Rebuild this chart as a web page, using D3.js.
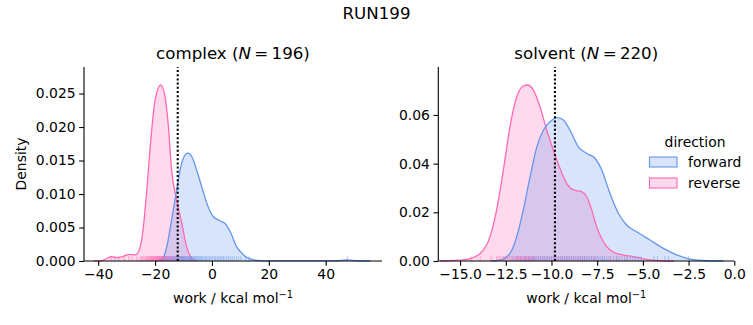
<!DOCTYPE html>
<html><head><meta charset="utf-8">
<script src="https://cdn.jsdelivr.net/npm/d3@7"></script>
<style>body{margin:0;background:#fff}svg{font-family:"DejaVu Sans",sans-serif}</style>
</head><body><svg id="c" width="753" height="325"></svg>
<script>
// ---- data ----
const figTitle = "RUN199";
const directions = ["forward", "reverse"];
const colors = ["#6495ED", "#FF69B4"];

// complex panel KDE curves [work, density]
const complexForwardKDE = [[-19.5,0],[-17.7,0.0002],[-15.9,0.0021],[-14.2,0.0061],[-12.4,0.0106],[-11.2,0.0136],[-10.1,0.0153],[-8.5,0.0161],[-7.1,0.0156],[-5.4,0.0136],[-3.6,0.0111],[-1.8,0.0086],[0.5,0.0066],[2.9,0.006],[4.6,0.0056],[6.4,0.0044],[8.7,0.0021],[11.1,0.0009],[13.4,0.0003],[16.9,0.00005],[20,0.00001],[40,0.00001],[44,0.00004],[47.5,0.00015],[51,0.00004],[55.7,0]];
const complexReverseKDE = [[-41.5,0],[-38.5,0.0001],[-35.3,0.00065],[-33.5,0.0005],[-31.2,0.0007],[-29.1,0.001],[-27.1,0.0009],[-25.6,0.0016],[-24.4,0.0041],[-23.0,0.0101],[-21.4,0.0186],[-20.0,0.024],[-18.0,0.0263],[-16.5,0.0245],[-15.3,0.020],[-14.2,0.0136],[-12.4,0.0091],[-10.6,0.0056],[-8.9,0.0021],[-7.1,0.0004],[-5.5,0]];
// solvent panel KDE curves
const solventForwardKDE = [[-13.3,0],[-12.8,0.0004],[-12.27,0.0031],[-11.9,0.010],[-11.54,0.021],[-11.17,0.0346],[-10.8,0.0469],[-10.44,0.0538],[-10.08,0.0572],[-9.68,0.0589],[-9.35,0.0579],[-8.99,0.0538],[-8.53,0.0469],[-8.07,0.0442],[-7.62,0.0422],[-7.25,0.0374],[-6.8,0.0278],[-6.34,0.0196],[-5.89,0.0148],[-5.34,0.012],[-4.61,0.0086],[-3.88,0.0052],[-3.15,0.0025],[-2.42,0.0008],[-1.5,0.0001],[-0.6,0]];
const solventReverseKDE = [[-16.1,0],[-15.4,0.0002],[-14.6,0.0007],[-13.9,0.0031],[-13.36,0.010],[-13.0,0.021],[-12.63,0.0374],[-12.27,0.0552],[-11.9,0.0675],[-11.54,0.0719],[-11.3,0.0723],[-10.99,0.0702],[-10.63,0.0634],[-10.26,0.0538],[-9.9,0.0456],[-9.53,0.038],[-9.17,0.0319],[-8.8,0.0292],[-8.35,0.0285],[-8.07,0.0264],[-7.8,0.021],[-7.53,0.0141],[-7.16,0.0079],[-6.8,0.0045],[-6.25,0.0027],[-5.52,0.0018],[-4.79,0.0007],[-4.06,0.0001],[-3.3,0]];

// rug values (work samples)
const complexForwardRug = [-17.2,-16.4,-15.8,-15.1,-14.6,-14.1,-13.7,-13.3,-12.9,-12.5,-12.2,-11.9,-11.6,-11.3,-11.0,-10.7,-10.5,-10.2,-10.0,-9.7,-9.5,-9.2,-9.0,-8.7,-8.5,-8.2,-8.0,-7.7,-7.5,-7.2,-7.0,-6.7,-6.4,-6.1,-5.8,-5.4,-5.1,-4.8,-4.4,-4.0,-3.6,-3.2,-2.8,-2.3,-1.9,-1.4,-0.9,-0.3,0.2,0.8,1.3,1.9,2.4,3.0,3.5,4.0,4.6,5.2,5.8,6.4,7.1,7.8,8.6,9.4,10.2,11.8,13.1,47.6];
const complexReverseRug = [-35.5,-34.2,-32.8,-30.9,-29.3,-28.1,-26.4,-25.3,-24.8,-24.3,-23.9,-23.5,-23.1,-22.8,-22.6,-22.3,-22.0,-21.7,-21.5,-21.3,-21.1,-20.9,-20.7,-20.5,-20.3,-20.1,-19.9,-19.7,-19.6,-19.4,-19.3,-19.1,-19.0,-18.8,-18.7,-18.5,-18.4,-18.2,-18.1,-17.9,-17.8,-17.6,-17.5,-17.3,-17.2,-17.0,-16.9,-16.7,-16.6,-16.4,-16.2,-16.0,-15.8,-15.6,-15.4,-15.2,-15.0,-14.7,-14.5,-14.2,-14.0,-13.7,-13.4,-13.0,-12.7,-12.3,-11.9,-11.4,-11.0,-10.5,-10.1,-9.2,-8.1,-7.3];
const solventForwardRug = [-12.6,-12.1,-11.9,-11.7,-11.5,-11.4,-11.25,-11.1,-11.0,-10.9,-10.8,-10.7,-10.6,-10.5,-10.4,-10.3,-10.2,-10.1,-10.0,-9.9,-9.8,-9.7,-9.6,-9.5,-9.4,-9.3,-9.2,-9.1,-9.0,-8.9,-8.8,-8.7,-8.6,-8.5,-8.4,-8.3,-8.2,-8.1,-8.0,-7.9,-7.8,-7.7,-7.6,-7.5,-7.4,-7.3,-7.2,-7.1,-7.0,-6.9,-6.75,-6.6,-6.45,-6.3,-6.15,-6.0,-5.85,-5.7,-5.55,-5.4,-5.25,-5.1,-4.4,-4.2,-3.8,-3.6,-2.5];
const solventReverseRug = [-14.4,-13.9,-13.3,-13.0,-12.9,-12.8,-12.7,-12.6,-12.5,-12.4,-12.3,-12.2,-12.1,-12.0,-11.95,-11.9,-11.85,-11.8,-11.75,-11.7,-11.65,-11.6,-11.55,-11.5,-11.45,-11.4,-11.35,-11.3,-11.25,-11.2,-11.15,-11.1,-11.05,-11.0,-10.95,-10.9,-10.8,-10.7,-10.6,-10.5,-10.4,-10.3,-10.2,-10.1,-10.0,-9.9,-9.8,-9.7,-9.6,-9.5,-9.4,-9.3,-9.2,-9.1,-9.0,-8.9,-8.8,-8.7,-8.6,-8.5,-8.4,-8.3,-8.2,-8.1,-7.95,-7.8,-7.65,-7.5,-7.2,-6.8,-6.4,-5.9];

const complexEstimate = -12.04;
const solventEstimate = -9.81;

const complexXTicks = [-40,-20,0,20,40];
const complexYTicks = [0,0.005,0.01,0.015,0.02,0.025];
const solventXTicks = [-15,-12.5,-10,-7.5,-5,-2.5,0];
const solventYTicks = [0,0.02,0.04,0.06];

// ---- drawing ----
const svg = d3.select("#c");
const fmtMinus = s => s.replace("-", "\u2212");

svg.append("text").attr("x", 376.5).attr("y", 19).attr("text-anchor","middle")
  .attr("font-size", 16.67).text(figTitle);

function panel(opt){
  const x = d3.scaleLinear().domain(opt.xDomain).range([opt.left, opt.right]);
  const y = d3.scaleLinear().domain(opt.yDomain).range([261, 67]);
  const g = svg.append("g");
  const area = d3.area().x(d=>x(d[0])).y0(y(0)).y1(d=>y(d[1])).curve(d3.curveMonotoneX);
  const line = d3.line().x(d=>x(d[0])).y(d=>y(d[1])).curve(d3.curveMonotoneX);
  [[opt.revKDE, colors[1]], [opt.fwdKDE, colors[0]]].forEach(([d,c])=>{
    g.append("path").datum(d).attr("d", area).attr("fill", c).attr("fill-opacity", 0.25);
  });
  [[opt.revKDE, colors[1]], [opt.fwdKDE, colors[0]]].forEach(([d,c])=>{
    g.append("path").datum(d).attr("d", line).attr("fill","none").attr("stroke", c).attr("stroke-width", 1.3);
  });
  // rugs
  const rh = 0.025*(261-67);
  [[opt.revRug, colors[1]], [opt.fwdRug, colors[0]]].forEach(([d,c])=>{
    g.append("g").selectAll("line").data(d).join("line")
      .attr("x1", v=>x(v)).attr("x2", v=>x(v)).attr("y1", 261).attr("y2", 261-rh)
      .attr("stroke", c).attr("stroke-width", 1).attr("stroke-opacity", 0.5);
  });
  // estimate line
  g.append("line").attr("x1", x(opt.est)).attr("x2", x(opt.est)).attr("y1", 261).attr("y2", 67)
    .attr("stroke","#000").attr("stroke-width",2.1).attr("stroke-dasharray","2,2.2");
  // axes
  const xa = d3.axisBottom(x).tickValues(opt.xTicks).tickSize(4.86).tickPadding(3.5)
    .tickFormat(v=>fmtMinus(d3.format(opt.xFmt)(v)));
  const gx = svg.append("g").attr("transform","translate(0,261)").call(xa);
  const ya = d3.axisLeft(y).tickValues(opt.yTicks).tickSize(4.86).tickPadding(3.5)
    .tickFormat(v=>d3.format(opt.yFmt)(v));
  const gy = svg.append("g").attr("transform",`translate(${opt.left},0)`).call(ya);
  [gx, gy].forEach(a=>{
    a.selectAll("text").attr("font-size", 13.9).attr("fill","#000").attr("font-family","DejaVu Sans");
    a.selectAll("line").attr("stroke","#000").attr("stroke-width",1.1);
    a.select(".domain").attr("stroke","#000").attr("stroke-width",1.1);
  });
  gx.select(".domain").attr("d", `M${opt.left},0H${opt.right}`);
  gy.select(".domain").attr("d", `M0,261V67`);
  // title
  const cx = (opt.left+opt.right)/2;
  const t = svg.append("text").attr("x", cx).attr("y", 59).attr("text-anchor","middle").attr("font-size",16.67);
  t.append("tspan").text(opt.name + " (");
  t.append("tspan").attr("font-style","italic").text("N");
  t.append("tspan").text("\u2009=\u2009" + opt.n + ")");
  // x label
  const xl = svg.append("text").attr("x", cx).attr("y", 303).attr("text-anchor","middle").attr("font-size",13.9);
  xl.append("tspan").text("work / kcal mol");
  xl.append("tspan").attr("dy",-5.5).attr("font-size",9.8).text("\u22121");
}

panel({left:84, right:382, xDomain:[-45.0,59.8], yDomain:[0,0.02896],
  fwdKDE:complexForwardKDE, revKDE:complexReverseKDE, fwdRug:complexForwardRug, revRug:complexReverseRug,
  est:complexEstimate, xTicks:complexXTicks, yTicks:complexYTicks, xFmt:"d", yFmt:".3f", name:"complex", n:196});
panel({left:438.3, right:734.3, xDomain:[-16.19,0], yDomain:[0,0.0797],
  fwdKDE:solventForwardKDE, revKDE:solventReverseKDE, fwdRug:solventForwardRug, revRug:solventReverseRug,
  est:solventEstimate, xTicks:solventXTicks, yTicks:solventYTicks, xFmt:".1f", yFmt:".2f", name:"solvent", n:220});

// y label
svg.append("text").attr("transform","translate(26,164) rotate(-90)").attr("text-anchor","middle")
  .attr("font-size",13.9).text("Density");

// legend
svg.append("text").attr("x",695).attr("y",146.5).attr("text-anchor","middle").attr("font-size",13.9).text("direction");
directions.forEach((d,i)=>{
  const yy = 157 + i*21;
  svg.append("rect").attr("x",649.5).attr("y",yy).attr("width",27.5).attr("height",10)
    .attr("fill", colors[i]).attr("fill-opacity",0.25).attr("stroke",colors[i]).attr("stroke-width",1.1);
  svg.append("text").attr("x",688).attr("y",yy+10).attr("font-size",13.9).text(d);
});
</script></body></html>
